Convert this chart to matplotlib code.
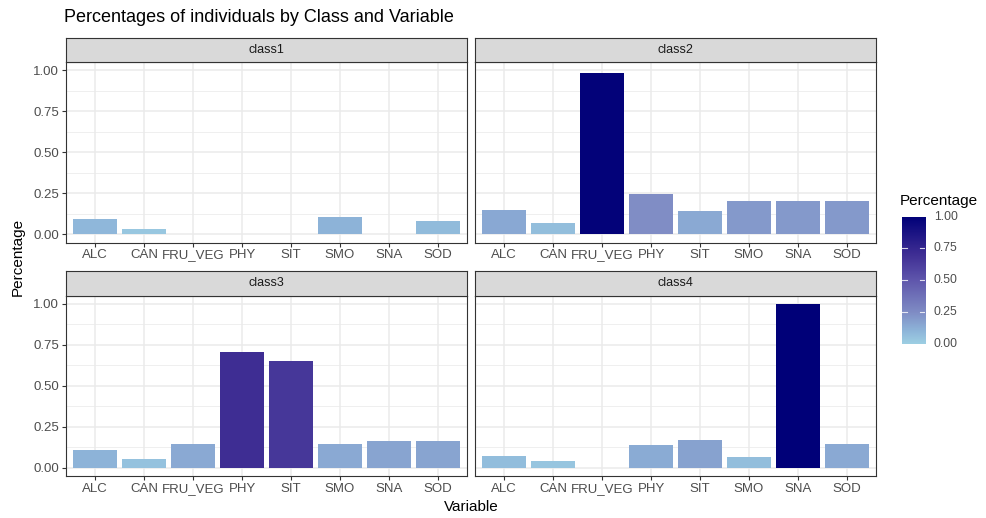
import numpy as np
import matplotlib
matplotlib.use("Agg")
import matplotlib.pyplot as plt
from matplotlib.colors import LinearSegmentedColormap

plt.rcParams['font.family'] = ['Liberation Sans', 'DejaVu Sans']

variables = ["ALC", "CAN", "FRU_VEG", "PHY", "SIT", "SMO", "SNA", "SOD"]
classes = ["class1", "class2", "class3", "class4"]
class1 = [0.095, 0.032, 0.0, 0.0, 0.0, 0.108, 0.0, 0.081]
class2 = [0.146, 0.067, 0.984, 0.246, 0.142, 0.203, 0.203, 0.203]
class3 = [0.109, 0.054, 0.143, 0.706, 0.653, 0.143, 0.163, 0.163]
class4 = [0.074, 0.042, 0.0, 0.137, 0.171, 0.068, 1.000, 0.143]
values = [class1, class2, class3, class4]
y_ticks = [0.0, 0.25, 0.5, 0.75, 1.0]

# light blue -> navy gradient (matched to the screenshot's tones)
cmap = LinearSegmentedColormap.from_list("pct", [
    (0.0, "#9DCFE3"), (0.1, "#8EB5D9"), (0.25, "#7F8BC4"),
    (0.5, "#5F56AC"), (0.7, "#3F2E94"), (1.0, "#000078")])

W, H = 987, 518
fig = plt.figure(figsize=(W / 100, H / 100), dpi=100)


def box(x0, y0, x1, y1):
    return [x0 / W, 1 - y1 / H, (x1 - x0) / W, (y1 - y0) / H]


cols = [(66, 467), (475, 876)]
rows = [(37.5, 62, 242.5), (271, 295.5, 476)]

for i, (name, vals) in enumerate(zip(classes, values)):
    cx0, cx1 = cols[i % 2]
    sy0, py0, py1 = rows[i // 2]
    ax = fig.add_axes(box(cx0, py0, cx1, py1))
    x = np.arange(len(variables))
    ax.bar(x, vals, width=0.9, color=cmap(np.array(vals)), zorder=2)
    ax.set_xlim(-0.6, len(variables) - 0.4)
    ax.set_ylim(-0.05, 1.05)
    ax.set_xticks(x)
    ax.set_xticklabels(variables)
    ax.set_yticks(y_ticks)
    ax.set_yticklabels(["%.2f" % v for v in y_ticks])
    ax.set_yticks([0.125, 0.375, 0.625, 0.875], minor=True)
    ax.grid(True, which='major', color='#EBEBEB', lw=1.1, zorder=0)
    ax.grid(True, which='minor', axis='y', color='#EBEBEB', lw=0.55, zorder=0)
    ax.set_axisbelow(True)
    for s in ax.spines.values():
        s.set_color('#333333')
        s.set_linewidth(0.8)
    ax.tick_params(which='major', length=3, color='#333333', labelcolor='#4D4D4D',
                   labelsize=9.5, pad=2)
    ax.tick_params(which='minor', length=0)
    if i % 2 == 1:
        ax.tick_params(axis='y', left=False, labelleft=False)
    # strip
    sax = fig.add_axes(box(cx0, sy0, cx1, py0))
    sax.set_facecolor('#D9D9D9')
    sax.set_xticks([])
    sax.set_yticks([])
    for s in sax.spines.values():
        s.set_color('#333333')
        s.set_linewidth(0.8)
    sax.text(0.5, 0.5, name, ha='center', va='center', fontsize=9,
             color='#1A1A1A', transform=sax.transAxes)

fig.text(64 / W, 1 - 18 / H, "Percentages of individuals by Class and Variable",
         fontsize=13, ha='left', va='center', color='black')
fig.text(18 / W, 1 - 257 / H, "Percentage", rotation=90, fontsize=11,
         ha='center', va='center')
fig.text(471 / W, 1 - 507 / H, "Variable", fontsize=11, ha='center', va='center')

# colour bar legend
cax = fig.add_axes(box(902, 216.5, 925, 344))
grad = np.linspace(0, 1, 300).reshape(-1, 1)
cax.imshow(grad, aspect='auto', cmap=cmap, origin='lower', extent=[0, 1, 0, 1])
for v in y_ticks[1:-1]:
    cax.plot([0, 0.2], [v, v], color='white', lw=0.8, alpha=0.8)
    cax.plot([0.8, 1], [v, v], color='white', lw=0.8, alpha=0.8)
cax.set_xlim(0, 1)
cax.set_ylim(0, 1)
cax.set_xticks([])
cax.set_yticks([])
for s in cax.spines.values():
    s.set_visible(False)
for v in y_ticks:
    fig.text(934 / W, 1 - (344 - v * 127.5) / H, "%.2f" % v, fontsize=8.8,
             color='#4D4D4D', ha='left', va='center')
fig.text(900 / W, 1 - 201.5 / H, "Percentage", fontsize=11, ha='left', va='center')

fig.savefig("out.png", dpi=100)
